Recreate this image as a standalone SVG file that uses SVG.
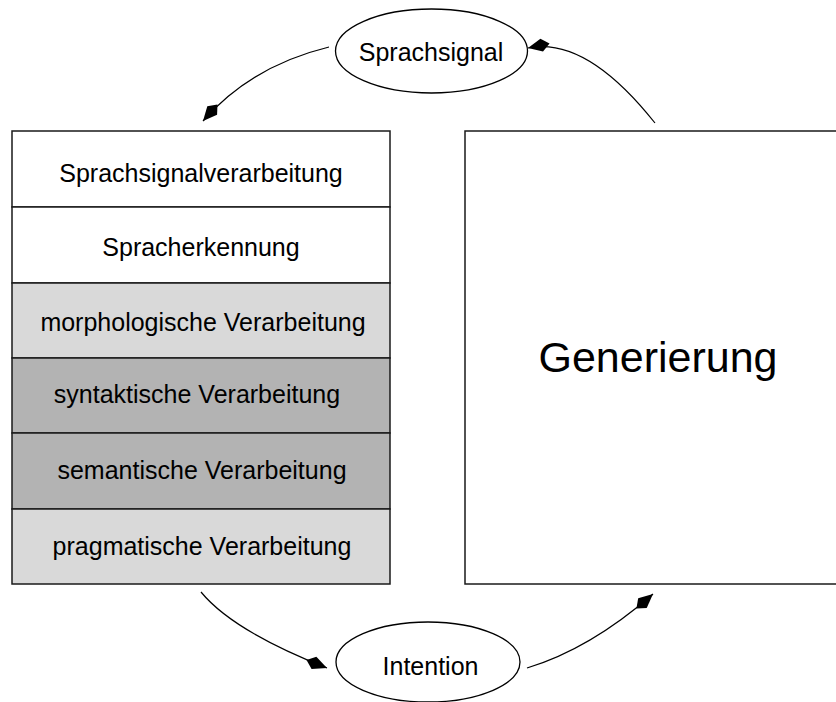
<svg xmlns="http://www.w3.org/2000/svg" width="836" height="702" viewBox="0 0 836 702">
  <style>
    .box { stroke: #1a1a1a; stroke-width: 1.5; }
    .white { fill: #ffffff; }
    .light { fill: #d9d9d9; }
    .dark { fill: #b3b3b3; }
    .ell { fill: #ffffff; stroke: #000000; stroke-width: 1.3; }
    .lbl { font-family: "Liberation Sans", Arial, sans-serif; font-size: 25px; fill: #000000; text-anchor: middle; }
    .big { font-family: "Liberation Sans", Arial, sans-serif; font-size: 43px; fill: #000000; text-anchor: middle; }
    .conn { fill: none; stroke: #000000; stroke-width: 1.2; }
  </style>
  <defs>
    <marker id="head" viewBox="-24 -9 26 18" refX="0" refY="0" markerWidth="26" markerHeight="18" markerUnits="userSpaceOnUse" orient="auto">
      <path d="M0,0 L-14,-6.5 L-22,0 L-14,6.5 Z" fill="#000000"/>
    </marker>
  </defs>

  <rect width="836" height="702" fill="#ffffff"/>

  <!-- processing stack -->
  <g id="sprachsignalverarbeitung">
    <rect class="box white" x="12" y="131" width="378" height="76"/>
    <text class="lbl" x="201" y="182">Sprachsignalverarbeitung</text>
  </g>
  <g id="spracherkennung">
    <rect class="box white" x="12" y="207" width="378" height="76"/>
    <text class="lbl" x="201" y="256">Spracherkennung</text>
  </g>
  <g id="morphologie">
    <rect class="box light" x="12" y="283" width="378" height="75"/>
    <text class="lbl" x="203" y="331">morphologische Verarbeitung</text>
  </g>
  <g id="syntax">
    <rect class="box dark" x="12" y="358" width="378" height="75"/>
    <text class="lbl" x="197" y="403">syntaktische Verarbeitung</text>
  </g>
  <g id="semantik">
    <rect class="box dark" x="12" y="433" width="378" height="76"/>
    <text class="lbl" x="202" y="479">semantische Verarbeitung</text>
  </g>
  <g id="pragmatik">
    <rect class="box light" x="12" y="509" width="378" height="75"/>
    <text class="lbl" x="202" y="555">pragmatische Verarbeitung</text>
  </g>

  <!-- generation block -->
  <g id="generierung">
    <rect class="box white" x="465" y="131" width="400" height="453"/>
    <text class="big" x="658" y="372">Generierung</text>
  </g>

  <!-- signal and intention -->
  <g id="sprachsignal">
    <ellipse class="ell" cx="431.5" cy="51" rx="96" ry="42"/>
    <text class="lbl" x="431" y="61">Sprachsignal</text>
  </g>
  <g id="intention">
    <ellipse class="ell" cx="428" cy="662" rx="92" ry="40"/>
    <text class="lbl" x="430.5" y="675">Intention</text>
  </g>

  <!-- cycle connectors -->
  <g id="connectors">
    <path class="conn" d="M329,47 Q251,66 203,121" marker-end="url(#head)"/>
    <path class="conn" d="M655,123 Q586,36 528,48" marker-end="url(#head)"/>
    <path class="conn" d="M201,592 Q233,631 327,668" marker-end="url(#head)"/>
    <path class="conn" d="M527,668 Q590,649 653,594" marker-end="url(#head)"/>
  </g>
</svg>
